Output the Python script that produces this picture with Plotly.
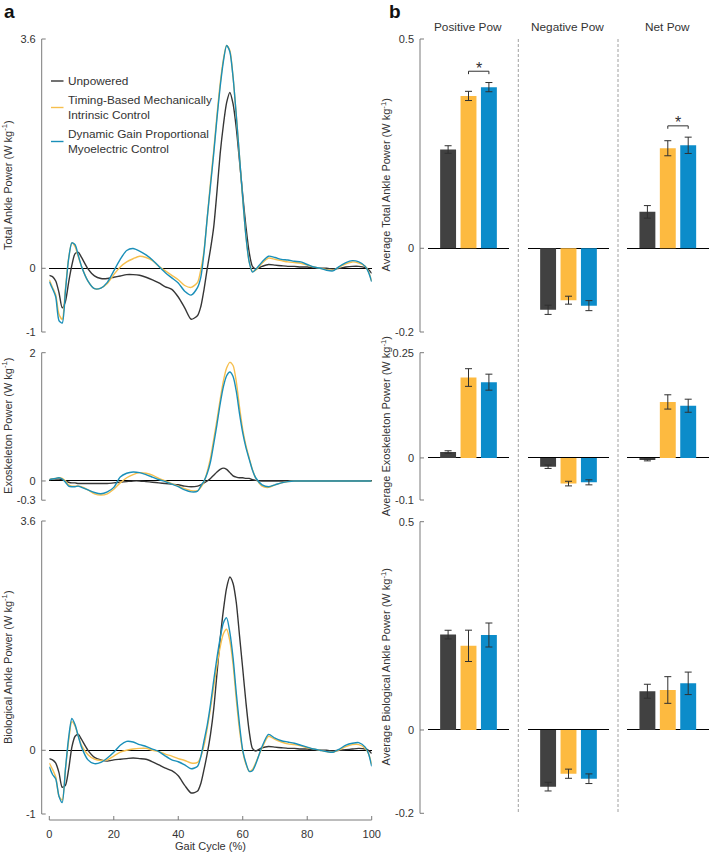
import plotly.graph_objects as go

W, H = 709, 854
def px(x): return x / W
def py(y): return 1 - y / H

# ---------------- line data (gait cycle %) ----------------
gait = [0,1,2,3,4,5,6,7,8,9,10,
        12,14,16,18,20,22,24,26,28,30,32,34,36,38,40,42,44,
        46,47,48,49,50,51,52,53,54,55,56,57,58,59,60,61,62,63,64,
        66,68,70,72,74,76,78,80,82,84,86,88,90,92,94,96,98,
        99,100]

total_unp = [-0.11,-0.13,-0.2,-0.38,-0.62,-0.52,-0.22,0.05,0.23,0.25,0.17,
             -0.01,-0.12,-0.16,-0.16,-0.14,-0.12,-0.1,-0.1,-0.11,-0.14,-0.18,-0.23,-0.29,-0.33,-0.45,-0.62,-0.8,
             -0.74,-0.6,-0.33,0.0,0.3,0.65,1.2,1.8,2.25,2.6,2.76,2.58,2.2,1.68,1.15,0.65,0.25,0.03,-0.01,
             0.03,0.06,0.05,0.04,0.03,0.03,0.02,0.02,0.01,0.0,0.0,-0.01,0.0,0.02,0.03,0.03,0.01,
             -0.02,-0.08]
total_tim = [-0.18,-0.3,-0.42,-0.72,-0.8,-0.32,0.16,0.4,0.34,0.18,0.03,
             -0.2,-0.32,-0.31,-0.24,-0.1,0.02,0.1,0.15,0.19,0.17,0.12,0.03,-0.04,-0.11,-0.18,-0.27,-0.3,
             -0.22,-0.02,0.28,0.8,1.35,1.85,2.4,2.9,3.28,3.5,3.42,3.0,2.4,1.75,1.08,0.5,0.1,-0.05,-0.03,
             0.08,0.16,0.14,0.12,0.1,0.09,0.08,0.05,0.02,0.0,-0.02,-0.03,0.02,0.07,0.1,0.08,0.03,
             -0.05,-0.2]
total_dyn = [-0.21,-0.32,-0.45,-0.82,-0.86,-0.36,0.15,0.4,0.37,0.2,0.03,
             -0.2,-0.32,-0.31,-0.22,-0.04,0.14,0.28,0.31,0.27,0.21,0.13,0.03,-0.07,-0.15,-0.23,-0.36,-0.42,
             -0.3,-0.14,0.25,0.8,1.3,1.8,2.35,2.85,3.25,3.5,3.4,3.0,2.4,1.75,1.1,0.5,0.1,-0.06,-0.02,
             0.1,0.19,0.17,0.14,0.13,0.11,0.1,0.06,0.02,0.0,-0.03,-0.04,0.03,0.09,0.12,0.1,0.03,
             -0.06,-0.21]

exo_unp = [0.02,0.03,0.03,0.03,0.02,0.0,-0.02,-0.03,-0.03,-0.04,-0.04,
           -0.04,-0.04,-0.04,-0.04,-0.03,-0.02,-0.01,0.0,0.0,-0.01,-0.02,-0.03,-0.04,-0.05,-0.06,-0.08,-0.09,
           -0.08,-0.06,-0.03,0.0,0.04,0.09,0.14,0.18,0.2,0.18,0.13,0.08,0.06,0.05,0.05,0.04,0.04,0.02,0.01,
           0.0,0.0,0.0,0.0,0.0,0.0,0.0,0.0,0.0,0.0,0.0,0.0,0.0,0.0,0.0,0.0,0.0,
           0.0,0.0]
exo_tim = [0.02,0.03,0.04,0.05,0.04,0.0,-0.06,-0.08,-0.08,-0.08,-0.09,
           -0.14,-0.2,-0.22,-0.2,-0.13,-0.03,0.05,0.1,0.13,0.12,0.09,0.04,0.0,-0.04,-0.08,-0.12,-0.15,
           -0.15,-0.1,-0.01,0.15,0.36,0.65,0.95,1.27,1.56,1.76,1.85,1.8,1.55,1.15,0.8,0.55,0.36,0.18,0.05,
           -0.08,-0.1,-0.06,-0.03,-0.01,0.0,0.0,0.0,0.0,0.0,0.0,0.0,0.0,0.0,0.0,0.0,0.0,
           0.0,0.0]
exo_dyn = [0.02,0.03,0.04,0.05,0.03,-0.02,-0.08,-0.09,-0.09,-0.08,-0.1,
           -0.14,-0.18,-0.2,-0.17,-0.1,0.06,0.12,0.14,0.13,0.1,0.06,0.02,-0.01,-0.05,-0.09,-0.14,-0.17,
           -0.16,-0.08,0.0,0.12,0.3,0.58,0.88,1.2,1.47,1.64,1.7,1.63,1.4,1.05,0.75,0.52,0.34,0.17,0.05,
           -0.06,-0.09,-0.06,-0.03,-0.01,0.0,0.0,0.0,0.0,0.0,0.0,0.0,0.0,0.0,0.0,0.0,0.0,
           0.0,0.0]

bio_unp = [-0.13,-0.15,-0.2,-0.35,-0.58,-0.55,-0.3,0.05,0.22,0.25,0.17,
           0.0,-0.11,-0.15,-0.17,-0.15,-0.14,-0.13,-0.12,-0.13,-0.14,-0.18,-0.23,-0.28,-0.32,-0.4,-0.55,-0.67,
           -0.64,-0.52,-0.3,-0.05,0.25,0.65,1.2,1.75,2.2,2.55,2.72,2.62,2.32,1.8,1.28,0.75,0.3,0.03,-0.01,
           0.04,0.06,0.05,0.04,0.03,0.03,0.02,0.02,0.01,0.0,0.0,-0.01,0.0,0.01,0.02,0.03,0.02,
           0.0,-0.05]
bio_tim = [-0.2,-0.3,-0.42,-0.72,-0.78,-0.3,0.15,0.45,0.38,0.22,0.08,
           -0.07,-0.14,-0.16,-0.15,-0.09,-0.03,0.0,0.02,0.03,0.03,0.0,-0.02,-0.06,-0.09,-0.13,-0.16,-0.2,
           -0.19,-0.1,0.08,0.35,0.66,1.0,1.33,1.62,1.83,1.9,1.72,1.35,0.8,0.32,-0.02,-0.22,-0.33,-0.3,-0.2,
           0.04,0.22,0.17,0.13,0.1,0.09,0.07,0.04,0.02,0.0,-0.02,-0.03,0.01,0.06,0.09,0.09,0.03,
           -0.05,-0.22]
bio_dyn = [-0.26,-0.38,-0.45,-0.72,-0.82,-0.3,0.2,0.5,0.4,0.22,0.05,
           -0.15,-0.21,-0.19,-0.12,-0.03,0.08,0.14,0.13,0.09,0.06,0.02,-0.02,-0.09,-0.15,-0.18,-0.23,-0.29,
           -0.25,-0.1,0.15,0.4,0.72,1.1,1.45,1.76,2.0,2.08,1.85,1.45,0.9,0.4,0.0,-0.2,-0.33,-0.32,-0.22,
           0.06,0.25,0.19,0.15,0.13,0.11,0.08,0.05,0.02,0.0,-0.02,-0.03,0.02,0.08,0.11,0.12,0.05,
           -0.05,-0.25]

gait_ticks = [0, 20, 40, 60, 80, 100]

# ---------------- bar data: [Positive, Negative, Net] ----------------
groups = ["Positive Pow", "Negative Pow", "Net Pow"]
conditions = ["Unpowered", "Timing-Based Mechanically<br>Intrinsic Control",
              "Dynamic Gain Proportional<br>Myoelectric Control"]

total_mean_unp = [0.236, -0.147, 0.087]
total_mean_tim = [0.364, -0.124, 0.239]
total_mean_dyn = [0.385, -0.137, 0.246]
total_err_unp = [0.009, 0.011, 0.015]
total_err_tim = [0.011, 0.0095, 0.018]
total_err_dyn = [0.011, 0.012, 0.0195]

exo_mean_unp = [0.014, -0.021, -0.005]
exo_mean_tim = [0.191, -0.061, 0.133]
exo_mean_dyn = [0.180, -0.058, 0.124]
exo_err_unp = [0.003, 0.004, 0.002]
exo_err_tim = [0.021, 0.0055, 0.017]
exo_err_dyn = [0.019, 0.006, 0.0155]

bio_mean_unp = [0.229, -0.136, 0.093]
bio_mean_tim = [0.202, -0.105, 0.096]
bio_mean_dyn = [0.228, -0.117, 0.112]
bio_err_unp = [0.0104, 0.0104, 0.0168]
bio_err_tim = [0.0376, 0.011, 0.032]
bio_err_dyn = [0.0288, 0.0116, 0.027]

# significance brackets (row, group) between Timing-Based and Dynamic Gain
sig_pairs = [(0, 0), (0, 2)]

# ---------------- style ----------------
FONT = "Liberation Sans, Arial, Helvetica, sans-serif"
LINE_COLORS = ["#363636", "#F6BF4E", "#1A8FB9"]
BAR_COLORS = ["#414141", "#FDBA40", "#0C8CCA"]
AX = "#7a7a7a"
TXT = "#333333"

left_xdom = [px(49.3), px(371.7)]
left_ydoms = [[py(332), py(39)], [py(500.2), py(352.7)], [py(814), py(521)]]
left_ranges = [[-1, 3.6], [-0.3, 2], [-1, 3.6]]
left_ticktext = [["-1", "0", "3.6"], ["-0.3", "0", "2"], ["-1", "0", "3.6"]]
left_titles = ["Total Ankle Power (W kg<sup>-1</sup>)",
               "Exoskeleton Power (W kg<sup>-1</sup>)",
               "Biological Ankle Power (W kg<sup>-1</sup>)"]
left_series = [(total_unp, total_tim, total_dyn),
               (exo_unp, exo_tim, exo_dyn),
               (bio_unp, bio_tim, bio_dyn)]

right_xdoms = [[px(427.7), px(509.3)], [px(527.7), px(609.3)], [px(627), px(708.6)]]
right_ydoms = [[py(332), py(39)], [py(500), py(352.7)], [py(813.3), py(521.7)]]
right_ranges = [[-0.2, 0.5], [-0.1, 0.25], [-0.2, 0.5]]
right_ticktext = [["-0.2", "0", "0.5"], ["-0.1", "0", "0.25"], ["-0.2", "0", "0.5"]]
right_titles = ["Average Total Ankle Power (W kg<sup>-1</sup>)",
                "Average Exoskeleton Power (W kg<sup>-1</sup>)",
                "Average Biological Ankle Power (W kg<sup>-1</sup>)"]
right_means = [(total_mean_unp, total_mean_tim, total_mean_dyn),
               (exo_mean_unp, exo_mean_tim, exo_mean_dyn),
               (bio_mean_unp, bio_mean_tim, bio_mean_dyn)]
right_errs = [(total_err_unp, total_err_tim, total_err_dyn),
              (exo_err_unp, exo_err_tim, exo_err_dyn),
              (bio_err_unp, bio_err_tim, bio_err_dyn)]

fig = go.Figure()
layout = dict(template="none", width=W, height=H,
              margin=dict(l=0, r=0, t=0, b=0, pad=0, autoexpand=False),
              paper_bgcolor="white", plot_bgcolor="rgba(0,0,0,0)", showlegend=False,
              font=dict(family=FONT, size=11, color=TXT))
annotations, shapes = [], []
counter = [0]

def new_pair():
    counter[0] += 1
    n = counter[0]
    return "" if n == 1 else str(n)

def val_to_paper(v, rng, dom):
    return dom[0] + (v - rng[0]) / (rng[1] - rng[0]) * (dom[1] - dom[0])

def axis_line_shapes_y(xpix, rng, dom, tickvals):
    # offset (MATLAB-style) y axis line with inward ticks
    shapes.append(dict(type="line", xref="paper", yref="paper", x0=px(xpix), x1=px(xpix),
                       y0=dom[0], y1=dom[1], line=dict(color=AX, width=1)))
    for tv in tickvals:
        yv = val_to_paper(tv, rng, dom)
        shapes.append(dict(type="line", xref="paper", yref="paper", x0=px(xpix),
                           x1=px(xpix + 4), y0=yv, y1=yv, line=dict(color=AX, width=1)))

def data_y(rng, dom, anchor):
    return dict(range=rng, domain=dom, anchor=anchor, showgrid=False, showline=False,
                ticks="", showticklabels=False, zeroline=True, zerolinecolor="#000000",
                zerolinewidth=1.1, fixedrange=True, automargin=False)

def display_y(rng, dom, anchor, tt):
    return dict(range=rng, domain=dom, anchor=anchor, side="left", showgrid=False,
                zeroline=False, showline=False, ticks="",
                tickvals=[rng[0], 0, rng[1]], ticktext=tt,
                tickfont=dict(size=11, color=TXT), ticklabelstandoff=5,
                fixedrange=True, automargin=False)

def hidden_x(dom, anchor, rng=None):
    d = dict(domain=dom, anchor=anchor, visible=False, showgrid=False, zeroline=False,
             fixedrange=True, automargin=False)
    if rng is not None:
        d["range"] = rng
    return d

# ---- left panel: line plots ----
for i in range(3):
    s = new_pair()
    for ys, col in zip(left_series[i], LINE_COLORS):
        fig.add_trace(go.Scatter(x=gait, y=ys, mode="lines",
                                 line=dict(color=col, width=1.4, shape="spline", smoothing=0.7),
                                 xaxis="x" + s, yaxis="y" + s, hoverinfo="skip"))
    layout["xaxis" + s] = hidden_x(left_xdom, "y" + s, [0, 100])
    layout["yaxis" + s] = data_y(left_ranges[i], left_ydoms[i], "x" + s)
    d = new_pair()
    fig.add_trace(go.Scatter(x=[], y=[], xaxis="x" + d, yaxis="y" + d, hoverinfo="skip"))
    layout["xaxis" + d] = hidden_x([px(41.7), px(49.3)], "y" + d, [0, 1])
    layout["yaxis" + d] = display_y(left_ranges[i], left_ydoms[i], "x" + d, left_ticktext[i])
    axis_line_shapes_y(41.7, left_ranges[i], left_ydoms[i], [left_ranges[i][0], 0, left_ranges[i][1]])
    annotations.append(dict(x=px(7.5), y=(left_ydoms[i][0] + left_ydoms[i][1]) / 2,
                            xref="paper", yref="paper", text=left_titles[i], textangle=-90,
                            showarrow=False, xanchor="center", yanchor="middle",
                            font=dict(size=11, color=TXT)))

# gait-cycle x axis, offset below the bottom plot
d = new_pair()
fig.add_trace(go.Scatter(x=[], y=[], xaxis="x" + d, yaxis="y" + d, hoverinfo="skip"))
layout["xaxis" + d] = dict(domain=left_xdom, range=[0, 100], anchor="y" + d, side="bottom",
                           showgrid=False, zeroline=False, showline=False, ticks="",
                           tickvals=gait_ticks, tickfont=dict(size=11, color=TXT),
                           ticklabelstandoff=6, fixedrange=True, automargin=False)
layout["yaxis" + d] = dict(domain=[py(820), py(814.5)], anchor="x" + d, range=[0, 1],
                           visible=False, fixedrange=True, automargin=False)
shapes.append(dict(type="line", xref="paper", yref="paper", x0=left_xdom[0], x1=left_xdom[1],
                   y0=py(820), y1=py(820), line=dict(color=AX, width=1)))
for tv in gait_ticks:
    xv = val_to_paper(tv, [0, 100], left_xdom)
    shapes.append(dict(type="line", xref="paper", yref="paper", x0=xv, x1=xv,
                       y0=py(820), y1=py(816), line=dict(color=AX, width=1)))

annotations.append(dict(x=px(210.5), y=py(846), xref="paper", yref="paper",
                        text="Gait Cycle (%)", showarrow=False, xanchor="center",
                        yanchor="middle", font=dict(size=11, color=TXT)))

# manual legend inside the top plot
leg_y = [81, 107.5, 141.5]
for name, col, ly in zip(conditions, LINE_COLORS, leg_y):
    shapes.append(dict(type="line", xref="paper", yref="paper", x0=px(51), x1=px(63.5),
                       y0=py(ly), y1=py(ly), line=dict(color=col, width=1.4)))
    annotations.append(dict(x=px(66), y=py(ly), xref="paper", yref="paper", text=name,
                            showarrow=False, xanchor="left", yanchor="middle", align="left",
                            font=dict(size=11.8, color=TXT)))

# ---- right panel: bar charts ----
for r in range(3):
    d = new_pair()
    fig.add_trace(go.Scatter(x=[], y=[], xaxis="x" + d, yaxis="y" + d, hoverinfo="skip"))
    layout["xaxis" + d] = hidden_x([px(420), px(427.7)], "y" + d, [0, 1])
    layout["yaxis" + d] = display_y(right_ranges[r], right_ydoms[r], "x" + d, right_ticktext[r])
    axis_line_shapes_y(420, right_ranges[r], right_ydoms[r], [right_ranges[r][0], 0, right_ranges[r][1]])
    for c in range(3):
        s = new_pair()
        xa, ya = "x" + s, "y" + s
        vals = [right_means[r][k][c] for k in range(3)]
        errs = [right_errs[r][k][c] for k in range(3)]
        fig.add_trace(go.Bar(x=[0, 1, 2], y=vals, width=0.78,
                             marker=dict(color=BAR_COLORS, line=dict(width=0)),
                             error_y=dict(type="data", array=errs, color="#303030",
                                          thickness=1, width=3.5),
                             xaxis=xa, yaxis=ya, hoverinfo="skip"))
        layout["xaxis" + s] = hidden_x(right_xdoms[c], ya, [-1, 3])
        layout["yaxis" + s] = data_y(right_ranges[r], right_ydoms[r], xa)
        if (r, c) in sig_pairs:
            top = max(vals[1] + errs[1], vals[2] + errs[2])
            yb = top + 0.027
            tick = 0.007
            shapes.append(dict(type="path", xref=xa, yref=ya,
                               path="M 1 %f L 1 %f L 2 %f L 2 %f" % (yb - tick, yb, yb, yb - tick),
                               line=dict(color="#303030", width=1)))
            annotations.append(dict(x=1.5, y=yb, xref=xa, yref=ya, text="*", showarrow=False,
                                    xanchor="center", yanchor="middle", yshift=3,
                                    font=dict(size=16, color="#303030")))
    annotations.append(dict(x=px(386), y=(right_ydoms[r][0] + right_ydoms[r][1]) / 2,
                            xref="paper", yref="paper", text=right_titles[r], textangle=-90,
                            showarrow=False, xanchor="center", yanchor="middle",
                            font=dict(size=11, color=TXT)))

group_x = [468.3, 567.7, 667.3]
for gx, g in zip(group_x, groups):
    annotations.append(dict(x=px(gx), y=py(27), xref="paper", yref="paper", text=g,
                            showarrow=False, xanchor="center", yanchor="middle",
                            font=dict(size=11.8, color=TXT)))

for sx in [518.3, 618]:
    shapes.append(dict(type="line", xref="paper", yref="paper", x0=px(sx), x1=px(sx),
                       y0=py(39), y1=py(813), line=dict(color="#a0a0a0", width=1, dash="3px,2px")))

annotations.append(dict(x=px(2), y=py(11), xref="paper", yref="paper", text="<b>a</b>",
                        showarrow=False, xanchor="left", yanchor="middle",
                        font=dict(size=19, color="#111111")))
annotations.append(dict(x=px(387), y=py(11), xref="paper", yref="paper", text="<b>b</b>",
                        showarrow=False, xanchor="left", yanchor="middle",
                        font=dict(size=19, color="#111111")))

layout["annotations"] = annotations
layout["shapes"] = shapes
fig.update_layout(**layout)
fig.write_html("out.html",
               config={"displayModeBar": False},
               post_script="document.body.style.margin='0px';"
                           "document.documentElement.style.overflow='hidden';")
